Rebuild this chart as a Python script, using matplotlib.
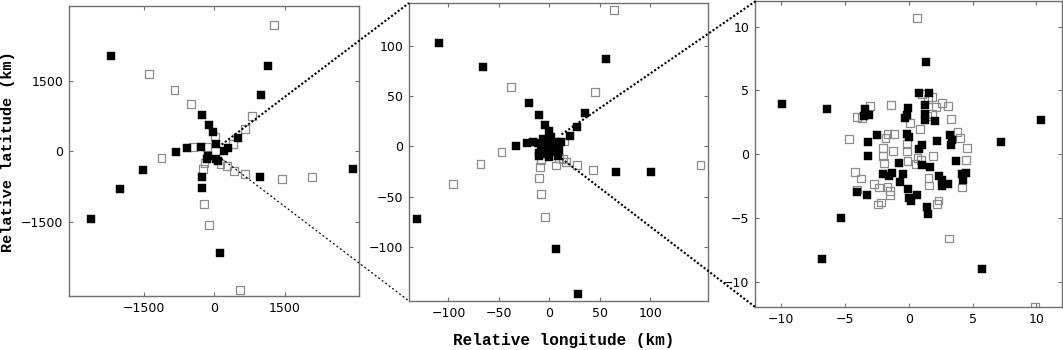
import matplotlib.pyplot as plt
from matplotlib.patches import ConnectionPatch

# panel 1: large scale (km)
p1_fill_x = [-2179, 1146, 983, -262, -120, -35, 502, 42, -290, -587, -821, 283, 212,
             -141, -163, 35, 85, -1507, -262, 976, 2950, -2009, -262, -2618, 127]
p1_fill_y = [2041, 1813, 1194, 768, 569, 412, 277, 149, 100, 64, -7, 78, 14,
             -100, -164, -156, -206, -398, -540, -547, -384, -803, -782, -1450, -2161]
p1_open_x = [1259, -1380, -842, -488, 807, 644, 14, 403, -446, -156, -1118, -205, -241,
             134, 262, 424, 644, 1436, 2066, -226, -106, 552]
p1_open_y = [2702, 1657, 1308, 1017, 761, 469, 299, 149, 92, 92, -149, -242, -377,
             -270, -320, -412, -483, -583, -540, -1116, -1564, -2951]

# panel 2: middle scale
p2_fill_x = [-109.4, -65.6, 55.7, -20.4, -9.9, 35.6, -4.0, -0.7, 27.0, 20.1, -32.9, -22.1,
             -15.8, 65.9, 100.2, -131.5, 6.9, 28.3,
             -6.6, 1.7, 6.6, -1.7, -8.2, 3.3, -5.0, -9.9, 8.2, 0.0, 5.0, 11.6, -3.3,
             -11.0, -4.0, 2.5, 7.5, -7.0, 1.0, 4.0, -2.5, 9.5, -10.5]
p2_fill_y = [102.8, 79.3, 86.9, 43.4, 31.2, 33.2, 21.9, 15.3, 19.6, 10.9, 0.0, 3.0,
             4.0, -25.9, -25.5, -72.0, -102.0, -147.0,
             7.7, 9.3, 4.3, 1.0, -2.3, -4.0, -7.3, -9.0, -9.0, -10.6, -0.7, 4.3, 6.0,
             3.0, 3.5, 3.0, 1.0, 2.0, -5.5, 2.0, -3.0, -4.0, -6.0]
p2_open_x = [63.9, -37.6, 45.1, -47.4, -68.2, -95.6, 149.6, 42.8, 27.0, 16.5, 9.9, -8.2,
             -9.6, -9.9, -8.6, -4.3, 14.8, 13.2, 6.6]
p2_open_y = [136.0, 59.4, 54.4, -5.6, -17.6, -37.5, -18.6, -23.2, -18.6, -15.3, -11.3, -13.3,
             -20.6, -31.5, -47.4, -70.3, 5.0, -12.2, -18.9]

# panel 3: small scale
p3_fill_x = [-9.93, -6.41, 10.33, 1.38, 0.76, 1.56, 1.30, -3.47, -3.55, -3.13, -0.10, -0.13,
             -0.31, 1.23, 1.25, 2.09, -2.48, -3.23, -0.18, 0.03, 2.19, 3.21, 3.39, 3.31,
             1.02, 0.76, -3.18, -0.78, 1.04, 1.69, 3.68, 7.25, -2.01, -1.56, -1.30, -0.47,
             -0.70, 2.35, 2.58, 2.63, 3.05, 4.20, 4.51, 4.25, -0.08, 0.65, 0.00, 0.16,
             -4.04, -3.31, 1.43, 1.54, -5.32, -6.81, 5.74]
p3_fill_y = [3.94, 3.52, 2.66, 7.20, 4.77, 4.77, 3.89, 3.52, 3.00, 3.08, 3.65, 3.08,
             2.82, 3.13, 2.66, 2.58, 1.54, 0.99, 1.56, 1.38, 1.04, 1.49, 1.10, 0.76,
             0.76, 0.44, -0.10, -0.68, -0.81, -0.99, -0.50, 0.94, -1.51, -1.72, -1.46, -1.51,
             -2.14, -1.72, -2.03, -2.45, -2.32, -1.54, -1.43, -1.98, -2.76, -3.18, -3.44, -3.68,
             -2.92, -3.18, -4.17, -4.72, -4.98, -8.19, -8.97]
p3_open_x = [0.65, -3.05, -1.41, -4.09, -3.70, -4.69, -1.83, -1.67, -1.15, -2.03, -2.01, -1.96,
             -1.23, -0.13, -0.13, 0.10, 0.89, -0.10, 0.52, 0.68, 0.96, 1.90, 1.02, 1.80,
             1.49, 2.11, 2.63, 3.05, 1.80, 1.43, 3.31, 3.81, 4.04, 4.59, 4.51, -4.20,
             -3.73, -4.07, -2.74, -2.35, -1.67, -1.49, -1.49, -2.43, -2.17, 1.54, 1.59,
             4.17, 2.22, 2.32, 3.13, 9.91]
p3_open_y = [10.66, 3.81, 3.83, 2.95, 2.82, 1.17, 1.28, 1.59, 1.62, 0.52, -0.13, -0.70,
             0.26, 0.78, 0.26, 2.45, 1.98, -0.52, -0.73, -0.26, -0.47, -0.16, 4.75, 4.48,
             4.30, 3.70, 4.02, 3.75, 3.18, 3.02, 2.76, 1.75, 1.25, 0.47, -0.47, -1.38,
             -1.90, -2.76, -2.35, -2.61, -2.58, -2.87, -3.16, -3.94, -3.78, -1.83, -2.45,
             -2.61, -3.89, -3.62, -6.60, -11.94]

W, H = 1063, 350
fig = plt.figure(figsize=(W / 100, H / 100), dpi=100)


def add_axes(x0, y0, x1, y1):
    # pixel box (top-left origin) -> figure fraction
    return fig.add_axes([x0 / W, 1 - y1 / H, (x1 - x0) / W, (y1 - y0) / H])


ax1 = add_axes(69, 6, 359, 296)
ax2 = add_axes(409, 3, 708, 301)
ax3 = add_axes(755, 0.5, 1062, 307)

panels = [
    (ax1, p1_fill_x, p1_fill_y, p1_open_x, p1_open_y, (-3080, 3070), (-3087, 3100),
     [-1500, 0, 1500], [-1500, 0, 1500]),
    (ax2, p2_fill_x, p2_fill_y, p2_open_x, p2_open_y, (-139, 157), (-154, 143),
     [-100, -50, 0, 50, 100], [-100, -50, 0, 50, 100]),
    (ax3, p3_fill_x, p3_fill_y, p3_open_x, p3_open_y, (-12.05, 12.0), (-11.97, 12.05),
     [-10, -5, 0, 5, 10], [-10, -5, 0, 5, 10]),
]

for ax, fx, fy, ox, oy, xl, yl, xt, yt in panels:
    ax.scatter(ox, oy, marker='s', s=32, facecolors='none', edgecolors='#8c8c8c',
               linewidths=0.9, zorder=2)
    ax.scatter(fx, fy, marker='s', s=30, color='black', linewidths=0.3, zorder=3)
    ax.set_xlim(*xl)
    ax.set_ylim(*yl)
    ax.set_xticks(xt)
    ax.set_yticks(yt)
    ax.tick_params(direction='in', top=True, right=True, length=3, width=0.8,
                   color='#707070', labelsize=9, pad=4)
    for sp in ax.spines.values():
        sp.set_color('#707070')
        sp.set_linewidth(1.0)

# zoom connector lines
lines = [
    (ax1, ax2, (157, 143), (-139, 143), 1.5, (0, (1.0, 1.0))),
    (ax1, ax2, (157, -154), (-139, -154), 0.9, (0, (1.5, 2.0))),
    (ax2, ax3, (12, 12), (-12, 12), 1.5, (0, (1.0, 1.0))),
    (ax2, ax3, (12, -12), (-12, -12), 1.5, (0, (1.0, 1.0))),
]
for a, b, pa, pb, lw, ls in lines:
    con = ConnectionPatch(xyA=pa, coordsA=a.transData, xyB=pb, coordsB=b.transData,
                          color='black', linewidth=lw, zorder=10)
    con.set_linestyle(ls)
    con.set_capstyle('butt')
    fig.add_artist(con)

fig.text(564 / W, 1 - 341 / H, 'Relative longitude (km)', ha='center', va='center',
         family='Liberation Mono', weight='bold', fontsize=11.5)
fig.text(8 / W, 1 - 152 / H, 'Relative latitude (km)', ha='center', va='center',
         rotation=90, family='Liberation Mono', weight='bold', fontsize=11)

fig.savefig('out.png', dpi=100)
